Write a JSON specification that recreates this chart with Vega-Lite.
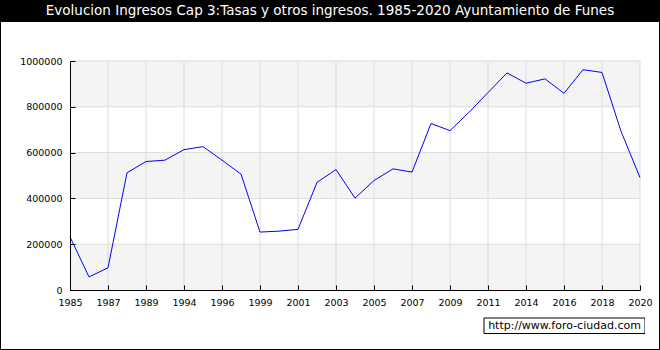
{
  "$schema": "https://vega.github.io/schema/vega-lite/v6.json",
  "padding": {"left": 1, "right": 1, "top": 0, "bottom": 1},
  "background": "black",
  "spacing": 0,
  "bounds": "flush",
  "config": {
    "font": "DejaVu Sans",
    "view": {"stroke": null}
  },
  "vconcat": [
    {
      "width": 658,
      "height": 22,
      "view": {"fill": "black", "stroke": null},
      "data": {"values": [{"t": "Evolucion Ingresos Cap 3:Tasas y otros ingresos. 1985-2020 Ayuntamiento de Funes"}]},
      "mark": {"type": "text", "color": "white", "fontSize": 13.5, "font": "DejaVu Sans", "baseline": "middle", "align": "center"},
      "encoding": {"text": {"field": "t"}}
    },
    {
      "width": 658,
      "height": 296,
      "view": {"stroke": null, "fill": "white"},
      "layer": [
        {
          "data": {"values": [
            {"b0": 0, "b1": 200000},
            {"b0": 400000, "b1": 600000},
            {"b0": 800000, "b1": 1000000}
          ]},
          "mark": {"type": "rect", "color": "#f4f4f4"},
          "encoding": {
            "x": {"datum": "1985", "type": "ordinal"},
            "x2": {"datum": "2020"},
            "y": {"field": "b0", "type": "quantitative"},
            "y2": {"field": "b1"}
          }
        },
        {
          "data": {"values": [
            {"g": 200000}, {"g": 400000}, {"g": 600000}, {"g": 800000}, {"g": 1000000}
          ]},
          "mark": {"type": "rule", "color": "#dcdcdc", "strokeWidth": 1},
          "encoding": {
            "x": {"datum": "1985", "type": "ordinal"},
            "x2": {"datum": "2020"},
            "y": {"field": "g", "type": "quantitative"}
          }
        },
        {
          "data": {"values": [
            {"gy": "1987"}, {"gy": "1989"}, {"gy": "1994"}, {"gy": "1996"}, {"gy": "1999"}, {"gy": "2001"}, {"gy": "2003"}, {"gy": "2005"}, {"gy": "2007"}, {"gy": "2009"}, {"gy": "2011"}, {"gy": "2014"}, {"gy": "2016"}, {"gy": "2018"}, {"gy": "2020"}
          ]},
          "mark": {"type": "rule", "color": "#dcdcdc", "strokeWidth": 1},
          "encoding": {
            "x": {"field": "gy", "type": "ordinal"},
            "y": {"datum": 0, "type": "quantitative"},
            "y2": {"datum": 1000000}
          }
        },
        {
          "data": {"values": [
            {"year": "1985", "value": 232000},
            {"year": "1986", "value": 57000},
            {"year": "1987", "value": 97000},
            {"year": "1988", "value": 512000},
            {"year": "1989", "value": 561000},
            {"year": "1990", "value": 567000},
            {"year": "1994", "value": 613000},
            {"year": "1995", "value": 626000},
            {"year": "1996", "value": 567000},
            {"year": "1997", "value": 506000},
            {"year": "1999", "value": 253000},
            {"year": "2000", "value": 257000},
            {"year": "2001", "value": 265000},
            {"year": "2002", "value": 470000},
            {"year": "2003", "value": 526000},
            {"year": "2004", "value": 401000},
            {"year": "2005", "value": 478000},
            {"year": "2006", "value": 529000},
            {"year": "2007", "value": 515000},
            {"year": "2008", "value": 727000},
            {"year": "2009", "value": 696000},
            {"year": "2010", "value": 776000},
            {"year": "2011", "value": 862000},
            {"year": "2012", "value": 948000},
            {"year": "2014", "value": 903000},
            {"year": "2015", "value": 922000},
            {"year": "2016", "value": 859000},
            {"year": "2017", "value": 962000},
            {"year": "2018", "value": 950000},
            {"year": "2019", "value": 693000},
            {"year": "2020", "value": 491000}
          ]},
          "mark": {"type": "line", "color": "#0000ff", "strokeWidth": 1},
          "encoding": {
            "x": {
              "field": "year", "type": "ordinal", "sort": null,
              "scale": {
                "type": "point", "padding": 0, "range": [69, 639],
                "domain": ["1985","1986","1987","1988","1989","1990","1994","1995","1996","1997","1999","2000","2001","2002","2003","2004","2005","2006","2007","2008","2009","2010","2011","2012","2014","2015","2016","2017","2018","2019","2020"]
              },
              "axis": {
                "title": null,
                "offset": -28,
                "zindex": 1,
                "values": ["1985","1987","1989","1994","1996","1999","2001","2003","2005","2007","2009","2011","2014","2016","2018","2020"],
                "labelAngle": 0,
                "labelAlign": "center",
                "labelBaseline": "top",
                "labelFontSize": 9.5,
                "labelColor": "black",
                "labelPadding": 12,
                "grid": false,
                "domainColor": "black",
                "tickColor": "black",
                "tickSize": -5,
                "labelFlush": false,
                "labelOverlap": false
              }
            },
            "y": {
              "field": "value", "type": "quantitative",
              "scale": {"domain": [0, 1000000], "nice": false, "range": [268, 39]},
              "axis": {
                "title": null,
                "offset": -69,
                "zindex": 1,
                "values": [0,100000,200000,300000,400000,500000,600000,700000,800000,900000,1000000],
                "format": "d",
                "labelExpr": "datum.value % 200000 === 0 ? datum.label : ''",
                "labelFontSize": 9.5,
                "labelColor": "black",
                "labelPadding": 13,
                "grid": false,
                "domainColor": "black",
                "tickColor": "black",
                "tickSize": -5,
                "labelOverlap": false
              }
            }
          }
        }
      ]
    },
    {
      "spacing": 0,
      "bounds": "flush",
      "hconcat": [
        {
          "width": 483,
          "height": 31,
          "view": {"stroke": null, "fill": "white"},
          "data": {"values": []},
          "mark": "point"
        },
        {
          "width": 161,
          "height": 31,
          "view": {"stroke": null, "fill": "white"},
          "data": {"values": [{"row": "box", "t": "http://www.foro-ciudad.com"}]},
          "layer": [
            {
              "mark": {"type": "rect", "fill": "white", "stroke": "black", "strokeWidth": 1},
              "encoding": {
                "y": {
                  "field": "row", "type": "nominal",
                  "scale": {"type": "band", "domain": ["box", "pad"], "paddingInner": 0, "paddingOuter": 0},
                  "axis": null
                }
              }
            },
            {
              "mark": {"type": "text", "color": "black", "fontSize": 11, "font": "DejaVu Sans", "baseline": "middle", "align": "center"},
              "encoding": {
                "y": {"field": "row", "type": "nominal", "axis": null},
                "text": {"field": "t"}
              }
            }
          ]
        },
        {
          "width": 14,
          "height": 31,
          "view": {"stroke": null, "fill": "white"},
          "data": {"values": []},
          "mark": "point"
        }
      ]
    }
  ]
}
